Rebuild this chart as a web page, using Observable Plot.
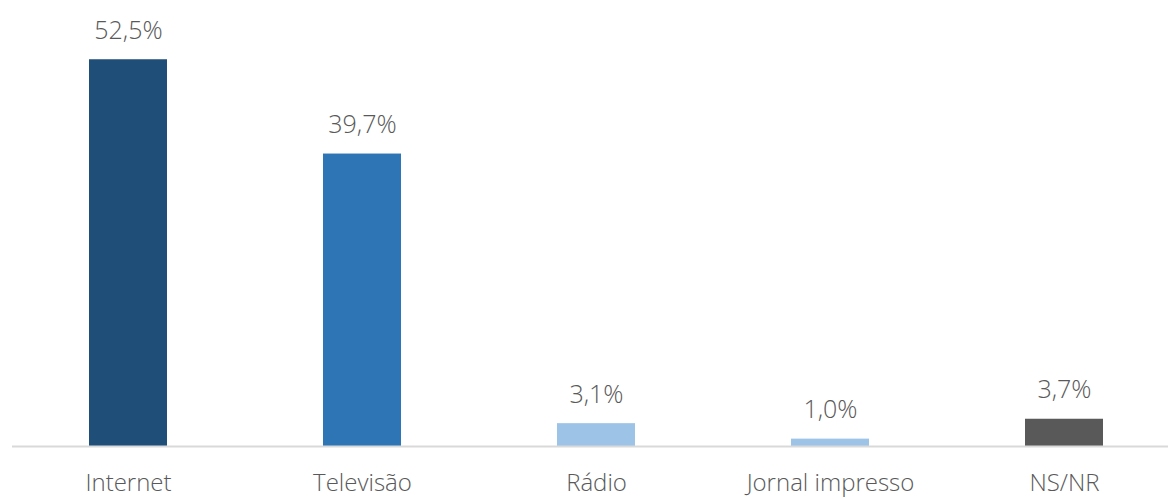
<!DOCTYPE html>
<html><head><meta charset="utf-8">
<script src="https://cdn.jsdelivr.net/npm/d3@7"></script>
<script src="https://cdn.jsdelivr.net/npm/@observablehq/plot@0.6"></script>
<style>
html,body{margin:0;padding:0;background:#fff;}
svg{display:block;}
</style>
</head><body>
<div id="chart"></div>
<script>
const categories = ["Internet", "Televisão", "Rádio", "Jornal impresso", "NS/NR"];
const values = [52.5, 39.7, 3.1, 1.0, 3.7];
const labels = ["52,5%", "39,7%", "3,1%", "1,0%", "3,7%"];
const colors = ["#1F4E79", "#2E75B6", "#9DC3E6", "#9DC3E6", "#595959"];

const data = categories.map((c, i) => ({cat: c, value: values[i], label: labels[i], color: colors[i]}));

const chart = Plot.plot({
  width: 1171,
  height: 499,
  marginTop: 4,
  marginBottom: 53,
  marginLeft: 12,
  marginRight: 3,
  style: {fontFamily: "'Open Sans', sans-serif", background: "#fff"},
  x: {domain: categories, range: [11, 1181], paddingInner: 0.667, paddingOuter: 0.333, label: null},
  y: {domain: [0, 60], axis: null},
  marks: [
    Plot.barY(data, {x: "cat", y: "value", fill: "color"}),
    Plot.ruleY([0], {stroke: "#d9d9d9", strokeWidth: 2}),
    Plot.text(data, {x: "cat", y: "value", text: "label", dy: -29, lineAnchor: "middle", fontSize: 25, fontWeight: 300, fill: "#595959"}),
    Plot.axisX({tickSize: 0, tickPadding: 27, fontSize: 24, fontWeight: 300, color: "#595959", label: null})
  ]
});
document.getElementById("chart").append(chart);
</script>
</body></html>
